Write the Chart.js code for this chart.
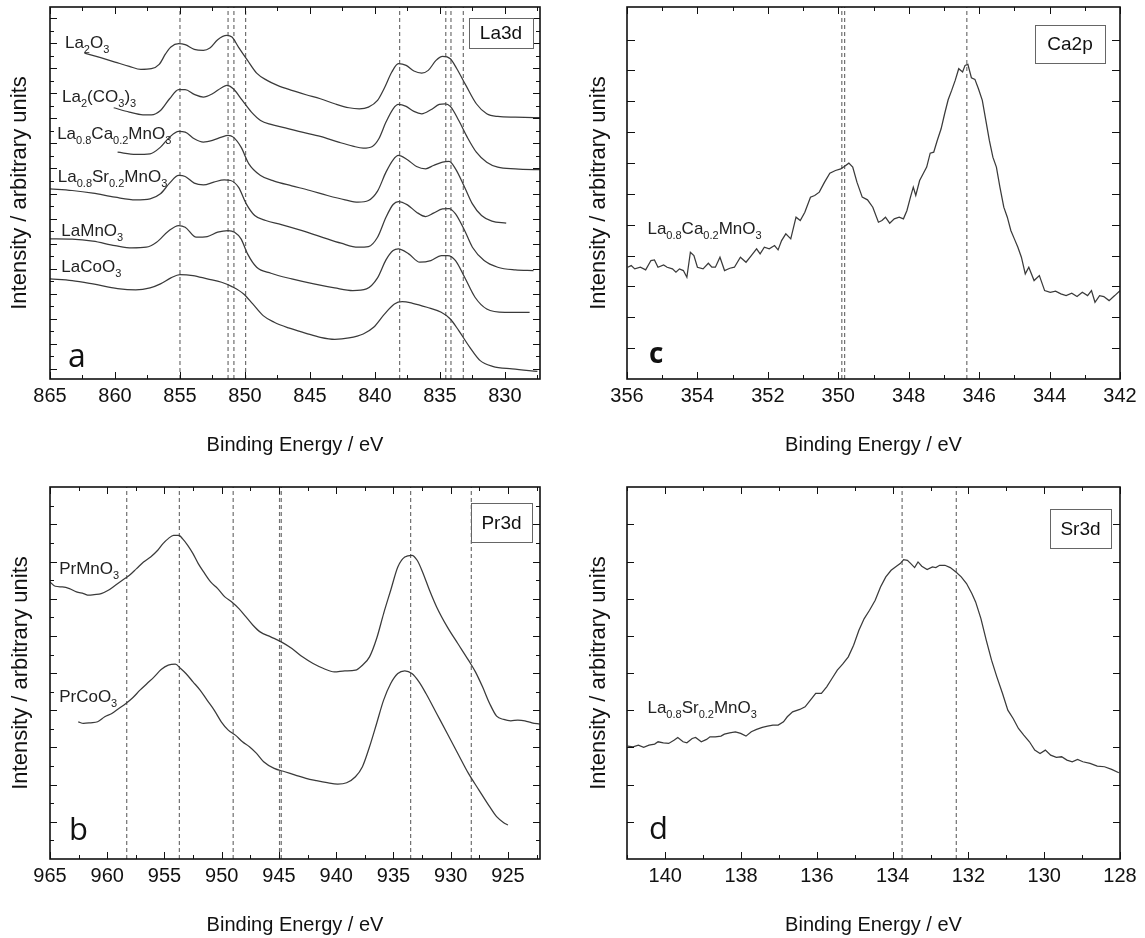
<!DOCTYPE html>
<html>
<head>
<meta charset="utf-8">
<script src="https://cdn.jsdelivr.net/npm/chart.js@4.4.1/dist/chart.umd.min.js"></script>
<style>
  html, body { margin: 0; padding: 0; background: #fff; }
  body { width: 1145px; height: 938px; position: relative; overflow: hidden; }
  canvas { position: absolute; }
</style>
</head>
<body>
<canvas id="pa" width="572" height="460" style="left:0;top:0"></canvas>
<canvas id="pc" width="568" height="460" style="left:577px;top:0"></canvas>
<canvas id="pb" width="572" height="478" style="left:0;top:460px"></canvas>
<canvas id="pd" width="568" height="478" style="left:577px;top:460px"></canvas>
<script>
// ---- La3d spectra (binding energy / eV, intensity in arb. units) ----
const la2o3E = [862.35,861.1,860.0,858.9,858.0,857.2,856.6,856.1,855.7,855.1,854.6,853.9,853.2,852.7,852.1,851.4,851.0,850.5,849.8,849.1,848.3,847.5,846.4,845.3,844.2,843.1,842.0,841.2,840.5,839.8,839.3,838.7,838.2,837.6,837.0,836.4,835.9,835.3,834.8,834.2,833.7,833.0,832.2,831.4,830.55,829.2,827.1];
const la2o3I = [977,963,950,937,928,930,943,975,995,1005,1002,988,985,992,1017,1030,1025,995,955,917,895,880,865,852,840,825,813,810,815,835,870,920,945,940,923,917,925,955,967,960,930,880,825,795,787,785,783];

const la2co3E = [860.1,858.9,857.85,857.2,856.5,855.8,855.1,854.6,853.9,853.2,852.5,851.8,851.4,850.9,850.2,849.5,848.8,848.0,846.9,845.6,844.2,842.8,841.7,840.9,840.2,839.7,839.15,838.6,838.2,837.6,837.0,836.4,835.7,835.05,834.6,834.2,833.55,832.9,832.2,831.4,830.55,829.2,827.1];
const la2co3I = [813,800,792,792,805,840,867,867,853,845,855,873,880,870,835,800,775,763,753,740,727,710,698,692,697,720,770,810,823,817,802,795,807,823,825,817,775,725,680,650,635,630,627];

const lcmE = [859.8,858.4,857.3,856.5,855.8,855.1,854.6,853.9,853.2,852.5,851.8,851.3,850.9,850.3,849.7,848.8,847.75,846.4,845.0,843.65,842.3,841.3,840.5,839.8,839.15,838.6,838.2,837.5,836.8,836.1,835.5,834.8,834.3,833.8,833.1,832.5,831.8,831.0,829.9];
const lcmI = [680,673,675,695,725,742,740,720,710,715,725,730,725,695,645,610,593,579,565,550,537,530,535,563,620,657,670,657,637,630,640,650,652,630,575,525,490,473,467];

const lsmE = [865.0,863.3,861.7,860.0,858.4,857.3,856.5,855.8,855.1,854.6,853.9,853.2,852.4,851.6,851.1,850.5,849.9,849.25,848.4,847.2,845.8,844.2,842.6,841.3,840.5,839.8,839.15,838.6,838.2,837.5,836.8,836.1,835.5,834.8,834.3,833.8,833.1,832.5,831.6,830.55,829.2,827.8];
const lsmI = [570,565,557,545,537,540,555,587,610,607,587,582,590,597,595,575,525,490,475,463,447,427,407,395,397,425,485,523,532,522,500,487,497,510,511,495,445,395,355,335,327,325];

const lmoE = [865.0,863.3,861.7,860.0,858.7,857.6,856.8,855.9,855.1,854.6,853.75,852.9,852.1,851.3,850.8,850.3,849.8,849.1,848.0,846.4,844.7,843.1,841.7,840.65,839.8,839.15,838.6,838.2,837.4,836.55,835.7,834.9,834.4,833.8,833.1,832.3,831.4,830.0,828.1];
const lmoI = [420,419,413,400,393,395,410,443,460,455,425,427,440,445,440,420,375,335,317,300,285,273,265,270,303,357,385,390,375,350,355,370,370,355,305,245,210,200,200];

const lcoE = [865.0,863.3,861.7,859.8,858.4,857.3,856.5,855.7,855.0,854.0,852.9,851.8,851.0,850.1,849.4,848.6,847.75,846.65,845.3,844.2,843.1,842.0,840.9,840.1,839.3,838.5,837.9,837.1,836.0,834.9,834.2,833.55,832.7,831.9,830.95,829.45,827.5];
const lcoI = [300,295,285,271,267,273,285,303,313,310,300,290,277,255,225,190,170,153,137,125,119,123,135,155,193,225,232,227,215,200,180,145,95,55,38,30,23];

const laRefs = [855.0, 851.3, 850.85, 849.95, 838.1, 834.55, 834.15, 833.2];
const laTickLabels = [865, 860, 855, 850, 845, 840, 835, 830];

// ---- Ca2p ----
const caE = [355.98,355.88,355.78,355.62,355.47,355.32,355.22,355.12,354.96,354.86,
  354.71,354.61,354.51,354.40,354.30,354.20,354.10,354.00,353.84,353.69,
  353.59,353.49,353.36,353.23,353.08,352.95,352.78,352.62,352.47,352.32,
  352.22,352.10,351.96,351.81,351.71,351.61,351.49,351.35,351.20,351.08,
  350.95,350.79,350.67,350.54,350.39,350.24,350.08,349.93,349.83,349.70,
  349.59,349.47,349.32,349.17,349.02,348.86,348.76,348.66,348.54,348.41,
  348.27,348.15,348.05,347.95,347.87,347.80,347.69,347.59,347.49,347.39,
  347.29,347.19,347.08,346.98,346.88,346.78,346.68,346.58,346.47,346.40,
  346.32,346.22,346.12,346.02,345.91,345.81,345.71,345.61,345.51,345.41,
  345.30,345.20,345.10,345.00,344.90,344.80,344.69,344.59,344.44,344.29,
  344.14,343.98,343.83,343.68,343.53,343.37,343.22,343.07,342.92,342.81,
  342.71,342.58,342.46,342.31,342.15,342.00];
const caI = [335,340,330,335,327,355,357,335,342,335,
  330,320,330,325,305,380,370,335,330,347,
  335,335,365,325,332,335,365,350,370,390,
  375,395,390,400,387,415,435,420,485,475,
  500,545,550,560,590,617,625,630,637,647,
  635,590,545,537,515,470,475,485,467,480,
  485,480,505,545,575,550,595,615,635,677,
  680,715,750,795,837,865,895,930,920,940,
  943,903,898,870,835,775,715,665,635,575,
  515,485,445,420,395,365,315,335,295,310,
  265,260,263,255,250,257,247,260,250,265,
  230,250,247,235,250,265];
const caRefs = [349.9, 349.82, 346.35];
const caTickLabels = [356, 354, 352, 350, 348, 346, 344, 342];

// ---- Pr3d ----
const prmE = [965.0,964.54,963.92,963.30,962.69,962.07,961.61,961.14,960.53,959.91,
  959.29,958.68,958.06,957.44,956.83,956.21,955.59,955.13,954.67,954.21,
  953.74,953.43,952.97,952.51,952.05,951.58,950.97,950.35,949.73,949.12,
  948.50,947.88,947.27,946.65,945.72,944.80,943.87,942.95,942.02,941.10,
  940.17,939.25,938.32,937.71,937.09,936.47,935.86,935.24,934.62,934.01,
  933.39,932.93,932.46,931.85,931.23,930.30,929.38,928.45,927.84,927.22,
  926.60,925.99,925.37,924.75,924.14,923.52,922.90,922.22];
const prmI = [832,819,817,812,802,797,792,794,797,807,
  822,837,852,872,892,907,927,947,962,972,
  972,962,942,917,887,862,832,812,787,772,
  752,727,702,682,667,652,632,607,587,572,
  562,565,567,582,607,662,737,807,877,907,
  912,897,862,807,757,697,647,597,562,517,
  467,429,419,415,417,415,409,405];

const prcE = [962.53,962.07,961.45,960.84,960.22,959.60,958.99,958.37,957.75,957.14,
  956.52,955.90,955.29,954.67,954.05,953.59,953.13,952.51,951.89,951.28,
  950.66,950.04,949.43,948.81,948.19,947.58,946.96,946.34,945.42,944.49,
  943.57,942.64,941.72,940.79,939.87,939.09,938.32,937.71,937.09,936.47,
  935.86,935.24,934.62,934.01,933.39,932.77,932.16,931.23,930.30,929.38,
  928.45,927.53,926.60,925.99,925.37,925.00];
const prcI = [412,407,409,412,427,437,452,467,485,507,
  527,547,569,582,585,572,557,532,507,477,
  447,412,387,372,352,337,317,292,272,262,
  252,242,235,229,225,229,247,277,337,407,
  477,527,557,565,557,532,497,437,377,317,
  257,207,157,127,109,102];
const prRefs = [958.3, 953.7, 949.0, 944.95, 944.8, 933.5, 928.2];
const prTickLabels = [965, 960, 955, 950, 945, 940, 935, 930, 925];

// ---- Sr3d ----
const srE = [140.99,140.85,140.71,140.57,140.43,140.28,140.19,140.05,139.91,139.76,
  139.67,139.53,139.43,139.29,139.20,139.05,138.91,138.82,138.68,138.53,
  138.44,138.30,138.15,138.01,137.87,137.73,137.59,137.44,137.30,137.16,
  137.02,136.88,136.78,136.64,136.45,136.31,136.17,136.03,135.88,135.74,
  135.60,135.46,135.32,135.17,135.03,134.89,134.75,134.61,134.46,134.32,
  134.18,134.04,133.90,133.80,133.71,133.61,133.52,133.42,133.33,133.23,
  133.09,132.95,132.86,132.76,132.62,132.48,132.33,132.19,132.05,131.91,
  131.81,131.67,131.53,131.39,131.25,131.10,130.96,130.82,130.68,130.54,
  130.39,130.25,130.11,129.97,129.83,129.68,129.54,129.40,129.26,129.12,
  128.98,128.79,128.60,128.41,128.22,128.03];
const srI = [339,337,342,335,342,345,352,349,347,357,
  365,352,349,362,365,352,359,367,367,369,
  375,379,382,377,369,382,389,395,399,402,
  402,412,427,442,449,457,477,497,497,517,
  542,567,585,607,642,687,722,747,777,817,
  847,867,879,887,899,897,887,875,892,879,
  869,877,875,882,882,875,862,847,827,797,
  772,722,657,597,547,497,447,422,392,372,
  352,327,317,327,312,305,307,297,292,299,
  292,287,279,277,269,259];
const srRefs = [133.75, 132.32];
const srTickLabels = [140, 138, 136, 134, 132, 130, 128];

const SANS = '"Liberation Sans", Arial, sans-serif';
const INK = '#111';
const CURVE = '#3a3a3a';
const REF = '#707070';

// compound names are set in a narrow face when one is installed
const chemFonts = (() => {
  const c = document.createElement('canvas').getContext('2d');
  c.font = '20px "Liberation Sans Narrow", monospace';
  const w1 = c.measureText('LaMnO').width;
  c.font = '20px monospace';
  const w2 = c.measureText('LaMnO').width;
  return w1 !== w2
    ? { main: '20px "Liberation Sans Narrow"', sub: '13px "Liberation Sans Narrow"' }
    : { main: '17px ' + SANS, sub: '11px ' + SANS };
})();

// segments alternate between normal text and subscripts
function drawChem(ctx, parts, x, y) {
  let cx = x;
  parts.forEach((t, i) => {
    const sub = i % 2 === 1;
    ctx.font = sub ? chemFonts.sub : chemFonts.main;
    ctx.fillText(t, cx, sub ? y + 5 : y);
    cx += ctx.measureText(t).width;
  });
}

function tickMarks(first, step, count, every, phase, longLen, shortLen) {
  return Array.from({ length: count }, (_, i) =>
    [first + i * step, (i + phase) % every === 0 ? longLen : shortLen]);
}

const deco = {
  id: 'deco',
  afterDatasetsDraw(chart, args, o) {
    const { ctx, chartArea: a, scales: { x, y } } = chart;
    ctx.save();
    ctx.strokeStyle = INK;
    ctx.lineWidth = 1;
    ctx.beginPath();
    for (const [v, len] of o.xTicks) {
      const px = Math.round(x.getPixelForValue(v)) + 0.5;
      ctx.moveTo(px, a.bottom); ctx.lineTo(px, a.bottom - len);
      ctx.moveTo(px, a.top); ctx.lineTo(px, a.top + len);
    }
    for (const [v, len] of o.yTicks) {
      const py = Math.round(y.getPixelForValue(v)) + 0.5;
      ctx.moveTo(a.left, py); ctx.lineTo(a.left + len, py);
      ctx.moveTo(a.right, py); ctx.lineTo(a.right - len, py);
    }
    ctx.stroke();
    ctx.lineWidth = 1.6;
    ctx.strokeRect(a.left, a.top, a.right - a.left, a.bottom - a.top);

    ctx.fillStyle = '#222';
    ctx.textAlign = 'left';
    ctx.textBaseline = 'alphabetic';
    for (const lab of o.labels) {
      drawChem(ctx, lab.parts, x.getPixelForValue(lab.x), y.getPixelForValue(lab.y));
    }

    const b = o.box;
    ctx.fillStyle = '#fff';
    ctx.fillRect(b.x, b.y, b.w, b.h);
    ctx.lineWidth = 1;
    ctx.strokeStyle = '#666';
    ctx.strokeRect(b.x + 0.5, b.y + 0.5, b.w, b.h);
    ctx.fillStyle = INK;
    ctx.font = '19px ' + SANS;
    ctx.textAlign = 'center';
    ctx.textBaseline = 'middle';
    ctx.fillText(b.text, b.x + b.w / 2, b.y + b.h / 2 + 1);

    const l = o.letter;
    ctx.font = l.font;
    ctx.textAlign = 'left';
    ctx.textBaseline = 'alphabetic';
    ctx.fillText(l.text, l.x, l.y);
    ctx.restore();
  }
};

function panel(id, p) {
  const datasets = p.curves.map(([E, I]) => ({
    data: E.map((e, i) => ({ x: e, y: I[i] })),
    borderColor: CURVE,
    borderWidth: 1.25,
    pointRadius: 0,
    fill: false,
    tension: p.smooth ? 0.4 : 0,
    cubicInterpolationMode: p.smooth ? 'monotone' : 'default'
  }));
  p.refs.forEach(e => datasets.push({
    data: [{ x: e, y: 0 }, { x: e, y: p.ymax }],
    borderColor: REF,
    borderWidth: 1.2,
    borderDash: [4, 3],
    pointRadius: 0,
    fill: false
  }));

  return new Chart(document.getElementById(id), {
    type: 'line',
    data: { datasets },
    plugins: [deco],
    options: {
      responsive: false,
      animation: false,
      layout: { padding: { left: 0, top: p.top, right: p.right, bottom: 0 } },
      plugins: { legend: { display: false }, tooltip: { enabled: false }, deco: p.deco },
      scales: {
        x: {
          type: 'linear',
          reverse: true,
          min: p.xmin,
          max: p.xmax,
          afterBuildTicks: s => { s.ticks = p.tickLabels.map(v => ({ value: v })); },
          afterFit: s => { s.height = p.xh; },
          grid: { display: false, drawTicks: false },
          border: { display: false },
          ticks: { color: INK, font: { family: SANS, size: 20 }, padding: 5, maxRotation: 0, autoSkip: false },
          title: { display: true, text: 'Binding Energy / eV', color: INK,
                   font: { family: SANS, size: 20 }, padding: { top: 0, bottom: p.titlePad } }
        },
        y: {
          min: 0,
          max: p.ymax,
          afterFit: s => { s.width = 50; },
          grid: { display: false, drawTicks: false },
          border: { display: false },
          ticks: { display: false },
          title: { display: true, text: 'Intensity / arbitrary units', color: INK,
                   font: { family: SANS, size: 22 }, padding: { top: p.yTitlePad, bottom: 0 } }
        }
      }
    }
  });
}

panel('pa', {
  curves: [[la2o3E, la2o3I], [la2co3E, la2co3I], [lcmE, lcmI], [lsmE, lsmI], [lmoE, lmoI], [lcoE, lcoI]],
  refs: laRefs, tickLabels: laTickLabels, smooth: true,
  xmin: 827.3, xmax: 865, ymax: 1115,
  top: 7, right: 32, xh: 81, titlePad: 3, yTitlePad: 7,
  deco: {
    xTicks: tickMarks(865, -2.5, 16, 2, 0, 7, 4),
    yTicks: tickMarks(31, 37.5, 29, 2, 0, 7, 4),
    labels: [
      { parts: ['La', '2', 'O', '3'], x: 863.85, y: 992 },
      { parts: ['La', '2', '(CO', '3', ')', '3'], x: 864.07, y: 830 },
      { parts: ['La', '0.8', 'Ca', '0.2', 'MnO', '3'], x: 864.45, y: 720 },
      { parts: ['La', '0.8', 'Sr', '0.2', 'MnO', '3'], x: 864.4, y: 590 },
      { parts: ['LaMnO', '3'], x: 864.13, y: 430 },
      { parts: ['LaCoO', '3'], x: 864.13, y: 320 }
    ],
    box: { text: 'La3d', x: 469, y: 18, w: 64, h: 30 },
    letter: { text: 'a', font: '32px "Open Sans"', x: 68, y: 367 }
  }
});

panel('pc', {
  curves: [[caE, caI]],
  refs: caRefs, tickLabels: caTickLabels, smooth: false,
  xmin: 342, xmax: 356, ymax: 1115,
  top: 7, right: 25, xh: 81, titlePad: 3, yTitlePad: 9,
  deco: {
    xTicks: tickMarks(356, -1, 15, 2, 0, 7, 4),
    yTicks: tickMarks(92.5, 92.5, 11, 1, 0, 8, 8),
    labels: [{ parts: ['La', '0.8', 'Ca', '0.2', 'MnO', '3'], x: 355.42, y: 435 }],
    box: { text: 'Ca2p', x: 458, y: 25, w: 70, h: 38 },
    letter: { text: 'c', font: 'bold 28px "Open Sans"', x: 72, y: 363 }
  }
});

panel('pb', {
  curves: [[prmE, prmI], [prcE, prcI]],
  refs: prRefs, tickLabels: prTickLabels, smooth: true,
  xmin: 922.2, xmax: 965, ymax: 1117,
  top: 27, right: 32, xh: 79, titlePad: 1, yTitlePad: 8,
  deco: {
    xTicks: tickMarks(965, -2.5, 18, 2, 0, 7, 4),
    yTicks: tickMarks(55.8, 55.8, 19, 2, 1, 7, 4),
    labels: [
      { parts: ['PrMnO', '3'], x: 964.2, y: 857 },
      { parts: ['PrCoO', '3'], x: 964.2, y: 472 }
    ],
    box: { text: 'Pr3d', x: 471, y: 43, w: 61, h: 39 },
    letter: { text: 'b', font: '31px "Open Sans"', x: 69, y: 380 }
  }
});

panel('pd', {
  curves: [[srE, srI]],
  refs: srRefs, tickLabels: srTickLabels, smooth: false,
  xmin: 128, xmax: 141.01, ymax: 1117,
  top: 27, right: 25, xh: 79, titlePad: 1, yTitlePad: 9,
  deco: {
    xTicks: tickMarks(141, -1, 14, 2, 1, 7, 4),
    yTicks: tickMarks(111.6, 111.6, 9, 1, 0, 7, 7),
    labels: [{ parts: ['La', '0.8', 'Sr', '0.2', 'MnO', '3'], x: 140.47, y: 437 }],
    box: { text: 'Sr3d', x: 473, y: 49, w: 61, h: 39 },
    letter: { text: 'd', font: '31px "Open Sans"', x: 72, y: 379 }
  }
});
</script>
</body>
</html>
